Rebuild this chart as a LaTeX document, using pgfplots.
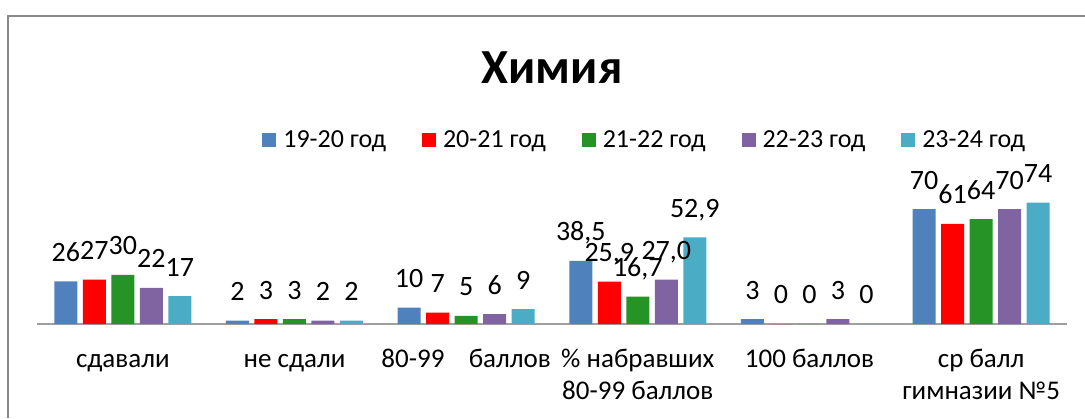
\documentclass[border=0pt]{standalone}
\usepackage{pgfplots}
\pgfplotsset{compat=1.18}
\usepackage{fontspec}
\setmainfont{Carlito}
\definecolor{c1}{HTML}{4F81BD}
\definecolor{c2}{HTML}{FF0000}
\definecolor{c3}{HTML}{259325}
\definecolor{c4}{HTML}{8064A2}
\definecolor{c5}{HTML}{4BACC6}
\definecolor{frame}{HTML}{898989}
\definecolor{baseln}{HTML}{A0A0A0}
\begin{document}
\begin{tikzpicture}
\useasboundingbox (0,0) rectangle (1085pt,418pt);
\draw[frame, line width=2pt] (8pt,0pt) -- (8pt,402pt) -- (1086pt,402pt);
\node[font=\fontsize{49}{58}\selectfont\bfseries] at (552pt,350pt) {Химия};
\begin{axis}[
  at={(37pt,94pt)}, anchor=south west,
  scale only axis, width=1030pt, height=131.2pt,
  ymin=0, ymax=80, xmin=-0.5, xmax=5.5,
  ybar=5.5pt, bar width=23pt,
  legend image code/.code={\fill[#1] (0pt,-7pt) rectangle (14pt,7pt); \path (19pt,0pt);},
  axis x line*=bottom, axis y line=none,
  x axis line style={draw=baseln, line width=1.5pt, -},
  xtick={0,1,2,3,4,5},
  xticklabels={\strut сдавали, \strut не сдали, \strut 80-99\hspace{0.9em}баллов, \strut\% набравших\\80-99 баллов, \strut 100 баллов, \strut ср балл\\гимназии №5},
  xticklabel style={align=center, font=\fontsize{27}{32}\selectfont, anchor=north, inner sep=0pt, yshift=-20.6pt},
  major tick length=0pt,
  point meta=explicit symbolic,
  nodes near coords={\pgfplotspointmeta},
  every node near coord/.append style={font=\fontsize{28}{33}\selectfont, anchor=base, yshift=20pt, text=black},
  legend columns=5,
  legend style={draw=none, fill=none, at={(0.590,1.406)}, anchor=center,
    font=\fontsize{26}{31}\selectfont,
    /tikz/every even column/.append style={column sep=34pt}},
]
\addplot[fill=c1, draw=none] coordinates {(0,26) [26] (1,2) [2] (2,10) [10] (3,38.5) [38,5] (4,3) [3] (5,70) [70]};
\addplot[fill=c2, draw=none] coordinates {(0,27) [27] (1,3) [3] (2,7) [7] (3,25.9) [25,9] (4,0) [0] (5,61) [61]};
\addplot[fill=c3, draw=none] coordinates {(0,30) [30] (1,3) [3] (2,5) [5] (3,16.7) [16,7] (4,0) [0] (5,64) [64]};
\addplot[fill=c4, draw=none] coordinates {(0,22) [22] (1,2) [2] (2,6) [6] (3,27.0) [27,0] (4,3) [3] (5,70) [70]};
\addplot[fill=c5, draw=none] coordinates {(0,17) [17] (1,2) [2] (2,9) [9] (3,52.9) [52,9] (4,0) [0] (5,74) [74]};
\legend{19-20 год, 20-21 год, 21-22 год, 22-23 год, 23-24 год}
\end{axis}
\end{tikzpicture}
\end{document}
